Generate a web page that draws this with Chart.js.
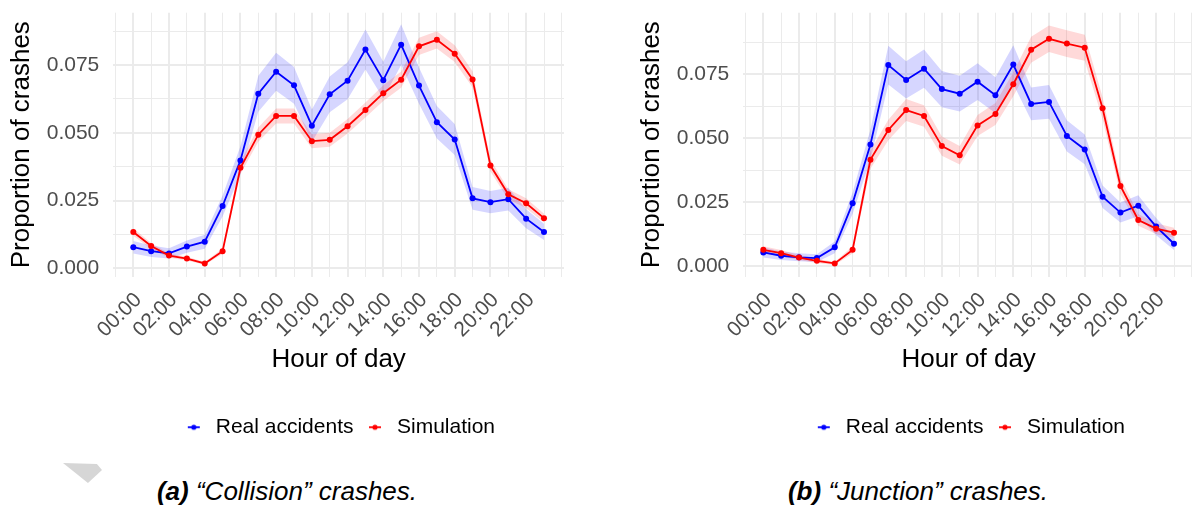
<!DOCTYPE html>
<html>
<head>
<meta charset="utf-8">
<script src="https://cdn.jsdelivr.net/npm/chart.js@4.4.0/dist/chart.umd.min.js"></script>
<style>
  html, body { margin: 0; padding: 0; background: #fff; width: 1192px; height: 507px; overflow: hidden; }
  .panel { position: absolute; top: 0; }
  .caption {
    position: absolute; top: 476px; transform: translateX(-50%);
    font: italic 26px 'Liberation Sans', Arial, sans-serif; line-height: 30px;
    white-space: nowrap; color: #000;
  }
  .corner {
    position: absolute; left: 63px; top: 463px; width: 39px; height: 20px; background: #d6d6d6;
    clip-path: polygon(0 0, 87% 5%, 100% 35%, 64% 100%);
  }
</style>
</head>
<body>
<canvas id="collision" class="panel" width="590" height="448" style="left:0px"></canvas>
<canvas id="junction" class="panel" width="590" height="448" style="left:630px"></canvas>
<div class="corner"></div>
<div class="caption" style="left:287px"><b>(a)</b> “Collision” crashes.</div>
<div class="caption" style="left:918px"><b>(b)</b> “Junction” crashes.</div>
<script>
// hours of the day (x) and the tick labels shown under the axis
const hours = [0, 1, 2, 3, 4, 5, 6, 7, 8, 9, 10, 11, 12, 13, 14, 15, 16, 17, 18, 19, 20, 21, 22, 23];
const gridHours = [-1, 0, 1, 2, 3, 4, 5, 6, 7, 8, 9, 10, 11, 12, 13, 14, 15, 16, 17, 18, 19, 20, 21, 22, 23, 24];
const hourTickLabels = ['00:00', '02:00', '04:00', '06:00', '08:00', '10:00', '12:00', '14:00', '16:00', '18:00', '20:00', '22:00'];
const yGrid = [0, 0.0125, 0.025, 0.0375, 0.05, 0.0625, 0.075, 0.0875];

// (a) collision crashes
const collisionReal = [0.0078, 0.0063, 0.0055, 0.0080, 0.0098, 0.0230, 0.0398, 0.0644, 0.0725, 0.0675, 0.0526, 0.0642,
                       0.0692, 0.0807, 0.0694, 0.0825, 0.0674, 0.0539, 0.0475, 0.0258, 0.0244, 0.0255, 0.0183, 0.0134];
const collisionSim = [0.0134, 0.0082, 0.0047, 0.0036, 0.0018, 0.0063, 0.0371, 0.0493, 0.0562, 0.0562, 0.0469, 0.0474,
                      0.0524, 0.0584, 0.0646, 0.0696, 0.0819, 0.0843, 0.0792, 0.0697, 0.0379, 0.0273, 0.0240, 0.0185];
const collisionRealCI = [0.0023, 0.0021, 0.0019, 0.0023, 0.0026, 0.0039, 0.0052, 0.0066, 0.0070, 0.0068, 0.0060, 0.0066,
                         0.0068, 0.0074, 0.0068, 0.0075, 0.0067, 0.0060, 0.0057, 0.0042, 0.0041, 0.0042, 0.0035, 0.0030];
const collisionSimCI = [0.0014, 0.0011, 0.0008, 0.0007, 0.0005, 0.0010, 0.0023, 0.0026, 0.0028, 0.0028, 0.0026, 0.0026,
                        0.0027, 0.0028, 0.0029, 0.0030, 0.0032, 0.0032, 0.0031, 0.0030, 0.0022, 0.0019, 0.0018, 0.0016];

// (b) junction crashes
const junctionReal = [0.0053, 0.0040, 0.0034, 0.0031, 0.0073, 0.0245, 0.0475, 0.0786, 0.0728, 0.0772, 0.0692, 0.0674,
                      0.0721, 0.0668, 0.0788, 0.0634, 0.0642, 0.0509, 0.0456, 0.0271, 0.0209, 0.0236, 0.0154, 0.0087];
const junctionSim = [0.0063, 0.0050, 0.0033, 0.0020, 0.0010, 0.0063, 0.0416, 0.0532, 0.0610, 0.0587, 0.0469, 0.0433,
                     0.0550, 0.0595, 0.0711, 0.0846, 0.0889, 0.0870, 0.0854, 0.0617, 0.0313, 0.0180, 0.0146, 0.0130];
const junctionRealCI = [0.0020, 0.0017, 0.0016, 0.0015, 0.0023, 0.0042, 0.0059, 0.0076, 0.0073, 0.0075, 0.0071, 0.0070,
                        0.0072, 0.0070, 0.0076, 0.0064, 0.0066, 0.0061, 0.0058, 0.0044, 0.0039, 0.0041, 0.0034, 0.0025];
const junctionSimCI = [0.0014, 0.0012, 0.0010, 0.0008, 0.0006, 0.0014, 0.0036, 0.0040, 0.0043, 0.0042, 0.0038, 0.0036,
                       0.0041, 0.0043, 0.0047, 0.0051, 0.0052, 0.0052, 0.0051, 0.0043, 0.0031, 0.0023, 0.0021, 0.0020];

Chart.defaults.font.family = "'Liberation Sans', Arial, sans-serif";

const BLUE = '#0000ff';
const RED = '#ff0000';

// legend key: short line with a dot on it
function keyIcon(color) {
  const c = document.createElement('canvas');
  c.width = 14; c.height = 8;
  const g = c.getContext('2d');
  g.strokeStyle = color; g.lineWidth = 1.8;
  g.beginPath(); g.moveTo(1, 4); g.lineTo(13, 4); g.stroke();
  g.fillStyle = color;
  g.beginPath(); g.arc(7, 4, 2.6, 0, Math.PI * 2); g.fill();
  return c;
}

function isMajor(v, step) {
  const r = v / step;
  return Math.abs(r - Math.round(r)) < 1e-6;
}

function xy(vals, ci, sign) {
  return hours.map((h, i) => ({ x: h, y: vals[i] + sign * ci[i] }));
}

function makeChart(id, real, sim, realCI, simCI, yMin, yMax) {
  new Chart(document.getElementById(id), {
    type: 'line',
    data: {
      datasets: [
        { label: 'Real accidents', data: xy(real, realCI, 0), borderColor: BLUE, backgroundColor: BLUE,
          borderWidth: 1.8, pointRadius: 3, pointBorderWidth: 0, pointBackgroundColor: BLUE, fill: false, order: 1 },
        { label: 'Simulation', data: xy(sim, simCI, 0), borderColor: RED, backgroundColor: RED,
          borderWidth: 1.8, pointRadius: 3, pointBorderWidth: 0, pointBackgroundColor: RED, fill: false, order: 0 },
        { label: 'real hi', data: xy(real, realCI, 1), borderWidth: 0, pointRadius: 0, fill: false, order: 3 },
        { label: 'real lo', data: xy(real, realCI, -1), borderWidth: 0, pointRadius: 0, fill: '-1',
          backgroundColor: 'rgba(0,0,255,0.16)', order: 3 },
        { label: 'sim hi', data: xy(sim, simCI, 1), borderWidth: 0, pointRadius: 0, fill: false, order: 2 },
        { label: 'sim lo', data: xy(sim, simCI, -1), borderWidth: 0, pointRadius: 0, fill: '-1',
          backgroundColor: 'rgba(255,0,0,0.15)', order: 2 }
      ]
    },
    options: {
      responsive: false,
      animation: false,
      devicePixelRatio: 1,
      layout: { padding: { top: 12.7, left: 0, right: 26, bottom: 0.3 } },
      plugins: {
        tooltip: { enabled: false },
        legend: {
          position: 'bottom',
          fullSize: false,
          labels: {
            usePointStyle: true,
            pointStyleWidth: 23,
            padding: 10,
            color: '#000',
            font: { size: 21 },
            generateLabels: (chart) => {
              const items = Chart.defaults.plugins.legend.labels.generateLabels(chart)
                .filter(it => it.datasetIndex < 2)
                .sort((a, b) => a.datasetIndex - b.datasetIndex);
              items.forEach(it => { it.pointStyle = keyIcon(it.datasetIndex === 0 ? BLUE : RED); });
              return items;
            }
          }
        }
      },
      scales: {
        x: {
          type: 'linear',
          min: -1.12,
          max: 24.12,
          afterBuildTicks: s => { s.ticks = gridHours.map(v => ({ value: v })); },
          afterFit: s => { s.height = 130; s.paddingLeft = 0; s.paddingRight = 0; },
          ticks: {
            autoSkip: false, minRotation: 45, maxRotation: 45, padding: 11, labelOffset: 5,
            color: '#4d4d4d', font: { size: 21 },
            callback: v => (v >= 0 && v <= 22 && v % 2 === 0) ? hourTickLabels[v / 2] : ''
          },
          grid: {
            color: '#ebebeb', drawTicks: false,
            lineWidth: c => (c.tick && c.tick.value >= 0 && c.tick.value <= 22 && c.tick.value % 2 === 0) ? 2 : 1
          },
          border: { display: false },
          title: { display: true, text: 'Hour of day', color: '#000', font: { size: 26 }, padding: { top: 0, bottom: 31 } }
        },
        y: {
          min: yMin,
          max: yMax,
          afterBuildTicks: s => { s.ticks = yGrid.map(v => ({ value: v })); },
          afterFit: s => { s.width = 113.3; s.paddingTop = 0; s.paddingBottom = 0; },
          ticks: {
            padding: 14, color: '#4d4d4d', font: { size: 21 },
            callback: v => isMajor(v, 0.025) ? v.toFixed(3) : ''
          },
          grid: {
            color: '#ebebeb', drawTicks: false,
            lineWidth: c => (c.tick && isMajor(c.tick.value, 0.025)) ? 2 : 1
          },
          border: { display: false },
          title: { display: true, text: 'Proportion of crashes', color: '#000', font: { size: 26 }, padding: { top: 6, bottom: 0 } }
        }
      }
    }
  });
}

makeChart('collision', collisionReal, collisionSim, collisionRealCI, collisionSimCI, -0.0031, 0.0943);
makeChart('junction', junctionReal, junctionSim, junctionRealCI, junctionSimCI, -0.0042, 0.0991);
</script>
</body>
</html>
